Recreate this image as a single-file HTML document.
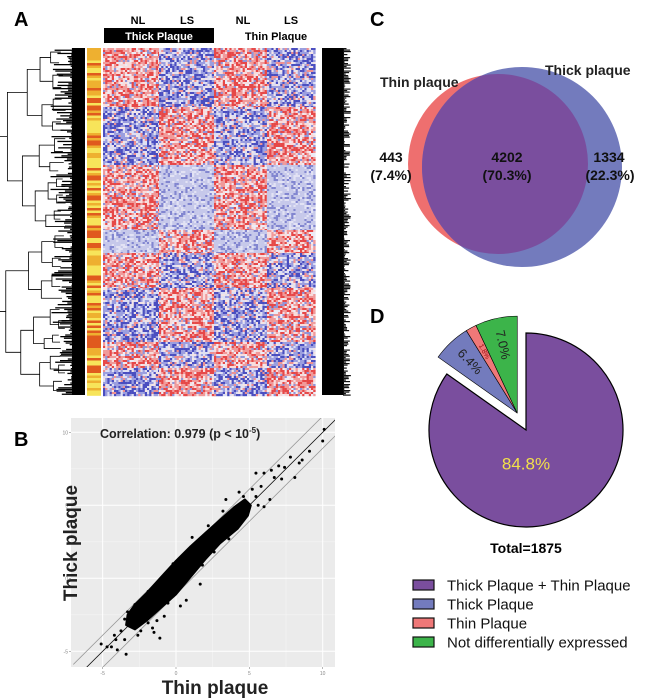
<!DOCTYPE html>
<html><head><meta charset="utf-8">
<style>
html,body{margin:0;padding:0;background:#fff;}
body{width:653px;height:699px;position:relative;overflow:hidden;font-family:"Liberation Sans",Arial,sans-serif;}
svg{position:absolute;left:0;top:0;}
</style></head>
<body>
<svg id="fig" width="653" height="699" viewBox="0 0 653 699">
  <text x="14" y="26" font-size="20" font-weight="bold">A</text>
  <text x="14" y="446" font-size="20" font-weight="bold">B</text>
  <text x="370" y="26" font-size="20" font-weight="bold">C</text>
  <text x="370" y="323" font-size="20" font-weight="bold">D</text>

  <g font-family="'Liberation Sans',sans-serif" font-weight="bold" font-size="11">
    <text x="138" y="24" text-anchor="middle">NL</text>
    <text x="187" y="24" text-anchor="middle">LS</text>
    <text x="243" y="24" text-anchor="middle">NL</text>
    <text x="291" y="24" text-anchor="middle">LS</text>
    <rect x="104" y="28" width="110" height="15" fill="#000"/>
    <text x="159" y="40" text-anchor="middle" fill="#fff">Thick Plaque</text>
    <text x="276" y="40" text-anchor="middle" fill="#000">Thin Plaque</text>
  </g>
  <g id="dendro"></g>
  <g id="sidebar"></g>
  <g id="heat"></g>
  <g id="rightbar"></g>

  <g id="scatter"></g>

  <g>
    <defs><clipPath id="pinkclip"><circle cx="498" cy="164" r="90"/></clipPath></defs>
    <circle cx="498" cy="164" r="90" fill="#ee6f6f"/>
    <circle cx="522" cy="167" r="100" fill="#737bbd"/>
    <circle cx="522" cy="167" r="100" fill="#7a4e9e" clip-path="url(#pinkclip)"/>
    <text x="380" y="87" font-size="14" font-weight="bold" fill="#222">Thin plaque</text>
    <text x="545" y="75" font-size="14" font-weight="bold" fill="#222">Thick plaque</text>
    <g font-size="14" font-weight="bold" fill="#111" text-anchor="middle">
      <text x="391" y="162">443</text>
      <text x="391" y="180">(7.4%)</text>
      <text x="507" y="162">4202</text>
      <text x="507" y="180">(70.3%)</text>
      <text x="609" y="162">1334</text>
      <text x="610" y="180">(22.3%)</text>
    </g>
  </g>

  <g id="pie"></g>
  <text x="526" y="553" font-size="14" font-weight="bold" text-anchor="middle">Total=1875</text>
  <g id="legend"></g>
</svg>

<script>
const NS='http://www.w3.org/2000/svg';
function mk(tag,attrs,parent){const e=document.createElementNS(NS,tag);for(const k in attrs)e.setAttribute(k,attrs[k]);if(parent)parent.appendChild(e);return e;}
function hash(i,j){let h=(i*374761393+j*668265263)>>>0;h=((h^(h>>>13))*1274126177)>>>0;return ((h^(h>>>16))>>>0)/4294967296;}

/* ---------- Heatmap (panel A) ---------- */
const heatBandRows=[[48,107],[107,165],[165,230],[230,253],[253,288],[288,342],[342,368],[368,395]];
const heatBandPattern=[["R","B","R","B"],["B","R","B","R"],["R","L","R","L"],["L","R","L","R"],["R","B","R","B"],["B","R","B","R"],["R","B","R","B"],["B","R","B","R"]];
const heatColEdges=[103,159,214,267,315];
(function(){
  const g=document.getElementById('heat');
  const cw=2.2,rh=2;
  let cells=[];
  for(let b=0;b<heatBandRows.length;b++){
    const [y0,y1]=heatBandRows[b];
    for(let c=0;c<4;c++){
      const x0=heatColEdges[c],x1=heatColEdges[c+1];
      const p=heatBandPattern[b][c];
      for(let y=y0;y<y1;y+=rh){
        for(let x=x0;x<x1;x+=cw){
          const r=hash(Math.round(x*7),Math.round(y*13));
          let col;
          if(p==="R"){col=r<0.3?'#e64848':r<0.6?'#f09a9a':r<0.8?'#f8dcdc':r<0.9?'#ececf6':'#9094d8';}
          else if(p==="B"){col=r<0.3?'#4a4ec0':r<0.6?'#9b9edf':r<0.8?'#dedff3':r<0.9?'#f4e4e4':'#ef9090';}
          else {col=r<0.2?'#8286d0':r<0.8?'#c6c8ea':'#e2e2f4';}
          cells.push(`<rect x="${x.toFixed(1)}" y="${y}" width="${(cw+0.2).toFixed(2)}" height="${rh+0.2}" fill="${col}"/>`);
        }
      }
    }
  }
  g.innerHTML=cells.join('');
  const sb=document.getElementById('sidebar');
  let s=[];
  for(let y=48;y<395;y+=2.5){const r=hash(5,Math.round(y*10));const col=r<0.4?'#f7e45a':r<0.7?'#eeb030':'#e05a1e';s.push(`<rect x="87" y="${y}" width="14" height="2.8" fill="${col}"/>`);}
  sb.innerHTML=s.join('');
  const rb=document.getElementById('rightbar');
  let t=[`<rect x="322" y="48" width="22" height="347" fill="#000"/>`];
  for(let y=48;y<395;y+=1.5){const r=hash(9,Math.round(y*10));t.push(`<rect x="343" y="${y}" width="${(r*8).toFixed(1)}" height="1.2" fill="#111"/>`);}
  rb.innerHTML=t.join('');
  const dg=document.getElementById('dendro');
  let d=[`<rect x="72" y="48" width="13" height="347" fill="#000"/>`];
  for(let y=48;y<395;y+=1.6){const r=hash(3,Math.round(y*10));const L=13+r*r*22;d.push(`<rect x="${(85-L).toFixed(1)}" y="${y}" width="${L.toFixed(1)}" height="1.3" fill="#000"/>`);}
  function tree(y0,y1,depth,xLeaf){
    if(y1-y0<14||depth>6) return {y:(y0+y1)/2,x:xLeaf-6-hash(y0,depth)*8};
    const f=0.3+hash(Math.round(y0),depth)*0.4;const m=y0+(y1-y0)*f;
    const a=tree(y0,m,depth+1,xLeaf),b=tree(m,y1,depth+1,xLeaf);
    const x=Math.min(a.x,b.x)-4-(6-depth)*2.2;
    d.push(`<path d="M${a.x} ${a.y}H${x}V${b.y}H${b.x}" fill="none" stroke="#000" stroke-width="0.8"/>`);
    return {y:(a.y+b.y)/2,x:x};
  }
  const root=tree(48,395,0,72);
  d.push(`<path d="M${root.x} ${root.y}H${root.x-6}" stroke="#000" stroke-width="0.8"/>`);
  dg.innerHTML=d.join('');
})();

/* ---------- Scatter (panel B) ---------- */
const scatterTicks=[-5,0,5,10];
const scatterMinor=[-2.5,2.5,7.5];
const scatterCoreHullX=[-3.3,-2.8,-2,-1,0,1,2,3,4,4.7,5.1,4.9,4.2,3,2,1,0,-1,-2,-2.8,-3.4];
const scatterCoreHullY=[-2.5,-1.8,-1.0,0.1,1.2,2.2,3.1,4.0,4.9,5.4,5.0,4.3,3.4,2.4,1.3,0.1,-1.1,-2.0,-2.9,-3.5,-3.2];
const scatterOutX=[10.1,10,9.1,8.6,8.4,7.8,7.4,8.1,7,7.2,6.5,6.7,5.45,6,6.4,6,5.45,4.3,3.4,1.65,0.7,-0.2,-1.1,-1.1,-1.5,-1.9,-1.6,-2.8,-3.5,-4.2,-4.1,-4,-3.4,-4.7,-5.1,-4.4,-3.75,-3.5,-3,-1.9,-0.55,2.4,2.85,4,4.9,4.4,3.75,1.25,0.8,5.2,5.8,3.2,2.2,-2.3,-2.6,-3.3,4.6,5.6,-0.8,1.8,-1.3,0.3,2.6,-2.4,3.6,1.1];
const scatterOutY=[10.2,9.4,8.7,8.1,7.9,8.3,7.6,6.9,7.7,6.8,7.4,6.9,7.2,7.2,5.4,4.9,5.6,5.9,5.4,-0.4,-1.5,1.0,-1.9,-4.1,-3.7,-0.9,-3.4,-1.8,-2.8,-3.9,-4.2,-4.9,-5.2,-4.7,-4.5,-4.7,-3.6,-4.2,-3.2,-3.05,-1.7,3.3,3.8,3.3,4.5,4.9,4.2,2.2,1.5,6.1,6.3,4.6,3.6,-1.6,-3.9,-2.3,5.6,5.0,-2.6,0.9,-2.9,-1.9,1.8,-3.6,2.7,2.8];
(function(){
  const g=document.getElementById('scatter');
  const px0=71,px1=335,py0=418,py1=667;
  const X=v=>176+(v)*14.67, Y=v=>578.3-(v)*14.6;
  const bg=mk('rect',{x:px0,y:py0,width:px1-px0,height:py1-py0,fill:'#ebebeb'},g);
  
  
  scatterMinor.forEach(v=>{mk('line',{x1:X(v),x2:X(v),y1:py0,y2:py1,stroke:'#f7f7f7','stroke-width':0.5},g);mk('line',{x1:px0,x2:px1,y1:Y(v),y2:Y(v),stroke:'#f7f7f7','stroke-width':0.5},g);});
  scatterTicks.forEach(v=>{
    mk('line',{x1:X(v),x2:X(v),y1:py0,y2:py1,stroke:'#fff','stroke-width':1},g);
    mk('line',{x1:px0,x2:px1,y1:Y(v),y2:Y(v),stroke:'#fff','stroke-width':1},g);
    mk('line',{x1:X(v),x2:X(v),y1:py1,y2:py1+2,stroke:'#888','stroke-width':0.6},g);
    mk('line',{x1:px0-2,x2:px0,y1:Y(v),y2:Y(v),stroke:'#888','stroke-width':0.6},g);
    const tx=mk('text',{x:X(v),y:py1+8,'font-size':5,'text-anchor':'middle',fill:'#888'},g);tx.textContent=v;
    
    
    const ty=mk('text',{x:px0-3,y:Y(v)+2,'font-size':5,'text-anchor':'end',fill:'#888'},g);ty.textContent=v;
    
    
  });
  const cl=mk('clipPath',{id:'pclip'},g);mk('rect',{x:px0,y:py0,width:px1-px0,height:py1-py0},cl);
  const inner=mk('g',{'clip-path':'url(#pclip)'},g);
  [[0,'#111'],[1.1,'#999'],[-1.1,'#999']].forEach(([o,c])=>{
    const ln=mk('line',{x1:X(-7),y1:Y(-7+o),x2:X(12),y2:Y(12+o),stroke:c,'stroke-width':0.8},inner);
    
    
  });
  const pts=scatterCoreHullX.map((v,i)=>X(v).toFixed(1)+','+Y(scatterCoreHullY[i]).toFixed(1)).join(' ');
  const core=mk('polygon',{points:pts,fill:'#000',stroke:'#000','stroke-width':2,'stroke-linejoin':'round'},inner);
  
  
  scatterOutX.forEach((v,i)=>{
    const c=mk('circle',{cx:X(v),cy:Y(scatterOutY[i]),r:1.5,fill:'#000'},inner);
    
    
  });
  const t=mk('text',{x:100,y:438,'font-size':12.5,'font-weight':'bold',fill:'#222'},g);
  t.innerHTML='Correlation: 0.979 (p &lt; 10<tspan dy="-5" font-size="8">-5</tspan><tspan dy="5">)</tspan>';
  
  
  const xt=mk('text',{x:215,y:694,'font-size':19,'font-weight':'bold','text-anchor':'middle',fill:'#222'},g);xt.textContent='Thin plaque';
  
  
  const yt=mk('text',{x:0,y:0,'font-size':19,'font-weight':'bold','text-anchor':'middle',fill:'#222',transform:'translate(77,543) rotate(-90)'},g);yt.textContent='Thick plaque';
  
  
})();

/* ---------- Pie (panel D) ---------- */
const pieLabels=['Thick Plaque + Thin Plaque','Thick Plaque','Thin Plaque','Not differentially expressed'];
const pieValues=[84.8,6.4,1.8,7.0];
const pieColors=['#7a4e9e','#737bbd','#ef7878','#3cb44a'];
const pieTextColors=['#f2e04a','#222','#a01010','#222'];
(function(){
  const g=document.getElementById('pie');
  const cx=526,cy=430,r=97;
  const total=pieValues.reduce((a,b)=>a+b,0);
  let a0=0;
  const pt=(x0,y0,ang,rr)=>[x0+rr*Math.sin(ang*Math.PI/180),y0-rr*Math.cos(ang*Math.PI/180)];
  pieValues.forEach((v,i)=>{
    const sweep=v/total*360,a1=a0+sweep;
    const off=i===0?0:19;
    const expMid=(pieValues[0]/total*360+360)/2;
    const [ox,oy]=pt(0,0,expMid,off);
    const x0=cx+ox,y0=cy+oy;
    const [sx,sy]=pt(x0,y0,a0,r),[ex,ey]=pt(x0,y0,a1,r);
    const p=mk('path',{d:`M${x0},${y0}L${sx},${sy}A${r},${r} 0 ${sweep>180?1:0} 1 ${ex},${ey}Z`,fill:pieColors[i],stroke:'#000','stroke-width':i===0?1.2:0.6},g);
    
    
    const mid=(a0+a1)/2;
    const lr=i===0?0.32*r:0.72*r;
    const [lx,ly]=i===0?[cx,cy+35]:pt(x0,y0,mid,lr);
    const fs=i===0?17:(v<3?7:13);
    const tx=mk('text',{x:lx,y:ly,'font-size':fs,'text-anchor':'middle','dominant-baseline':'middle',fill:pieTextColors[i]},g);
    if(i>0) tx.setAttribute('transform',`rotate(${mid-270} ${lx} ${ly})`);
    tx.textContent=v.toFixed(1)+'%';
    
    
    a0=a1;
  });
  const lg=document.getElementById('legend');
  const ys=[585,604,623,642];
  pieLabels.forEach((l,i)=>{
    const sw=mk('rect',{x:413,y:ys[i]-5,width:21,height:10,fill:pieColors[i],stroke:'#111','stroke-width':1.2},lg);
    
    
    const t=mk('text',{x:447,y:ys[i]+5.5,'font-size':15,fill:'#111'},lg);t.textContent=l;
    
    
  });
})();
</script>
</body></html>
